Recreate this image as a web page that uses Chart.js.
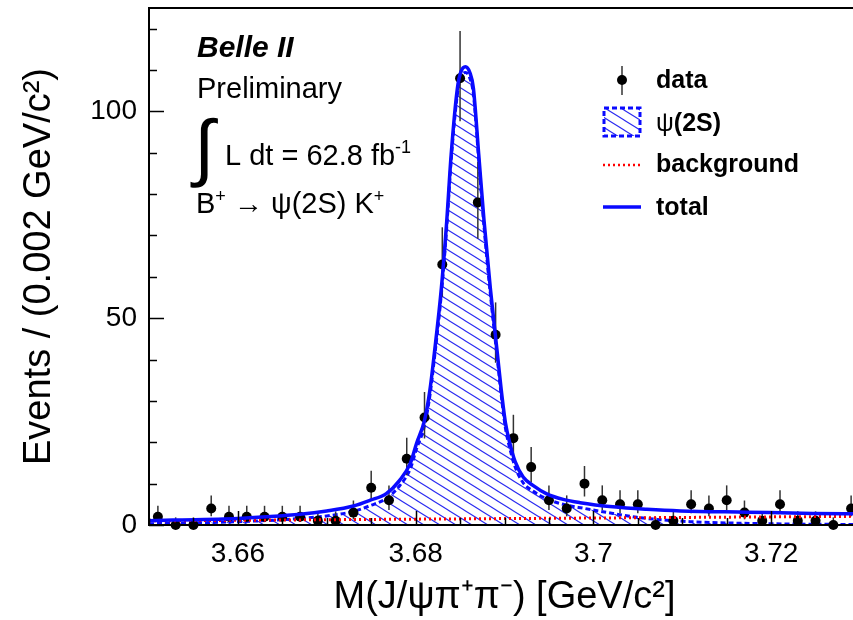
<!DOCTYPE html>
<html><head><meta charset="utf-8">
<script src="https://cdn.jsdelivr.net/npm/chart.js@4.4.1/dist/chart.umd.min.js"></script>
<style>
html,body{margin:0;padding:0;background:#fff;overflow:hidden;width:853px;height:620px;}
#wrap{position:relative;width:870px;height:620px;}
</style></head><body>
<div id="wrap"><canvas id="c" width="870" height="620"></canvas></div>
<script>
// ---- data ----
const binCenters = [3.651,3.653,3.655,3.657,3.659,3.661,3.663,3.665,3.667,3.669,
                    3.671,3.673,3.675,3.677,3.679,3.681,3.683,3.685,3.687,3.689,
                    3.691,3.693,3.695,3.697,3.699,3.701,3.703,3.705,3.707,3.709,
                    3.711,3.713,3.715,3.717,3.719,3.721,3.723,3.725,3.727,3.729];
const counts = [2,0,0,4,2,2,2,2,2,1, 1,3,9,6,16,26,63,108,78,46, 21,14,6,4,10,6,5,5,0,1, 5,4,6,3,1,5,1,1,0,4];
const errLo  = [1.29,0,0,1.91,1.29,1.29,1.29,1.29,1.29,0.83, 0.83,1.63,2.94,2.38,3.98,5.08,7.93,10.38,8.82,6.77,
                4.55,3.72,2.38,1.91,3.11,2.38,2.16,2.16,0,0.83, 2.16,1.91,2.38,1.63,0.83,2.16,0.83,0.83,0,1.91];
const errHi  = [2.64,1.84,1.84,3.16,2.64,2.64,2.64,2.64,2.64,2.30, 2.30,2.92,4.11,3.58,5.10,6.16,8.98,11.42,9.87,7.82,
                5.65,4.83,3.58,3.16,4.26,3.58,3.38,3.38,1.84,2.30, 3.38,3.16,3.58,2.92,2.30,3.38,2.30,2.30,1.84,3.16];

const totalX = [3.650,3.6527,3.6584,3.6632,3.667,3.670,3.673,3.6749,3.6767,3.6782,3.6794,3.6801,3.681,3.6816,3.6821,
                3.6829,3.6835,3.6840,3.6847,3.6851,3.6856,3.6861,3.6865,3.6871,3.6877,3.6884,3.6892,3.6896,3.6901,
                3.6906,3.6912,3.6921,3.6932,3.6947,3.6966,3.6985,3.7022,3.706,3.7098,3.7173,3.7247,3.730];
const totalY = [1.0,1.2,1.45,2.0,2.6,3.4,4.6,6.0,7.6,10.8,14.9,19.7,25.3,32.5,41.4,
                57.4,73.5,89.6,105.6,109.6,110.8,109.4,105.6,89.6,73.5,57.4,41.4,33.3,24.8,
                19.8,15.3,11.6,9.6,7.6,6.2,5.4,4.4,3.8,3.4,3.1,2.8,2.7];

const sigX = [3.650,3.655,3.660,3.665,3.670,3.673,3.6749,3.6767,3.6782,3.6794,3.6801,3.681,3.6816,3.6821,3.6829,
              3.6835,3.6840,3.6847,3.6851,3.6856,3.6861,3.6865,3.6871,3.6877,3.6884,3.6892,3.6896,3.6901,3.6906,
              3.6912,3.6921,3.6932,3.6949,3.6966,3.699,3.7022,3.7049,3.7109,3.715,3.720,3.730];
const sigY = [0.3,0.5,0.8,1.3,2.2,3.3,4.7,6.4,9.5,13.6,18.4,24.0,31.2,40.0,56.0,
              72.0,88.2,104.2,108.2,109.4,108.0,104.2,88.2,72.0,56.0,40.0,32.0,23.5,18.5,
              14.0,10.2,8.2,6.2,5.0,4.0,2.8,1.85,0.8,0.5,0.3,0.1];

const bgX = [3.650, 3.730];
const bgY = [1.0, 2.1];

const xTickVals = [3.66, 3.68, 3.70, 3.72];
const xTickLabels = ['3.66', '3.68', '3.7', '3.72'];
const yTickVals = [0, 50, 100];
const yTickLabels = ['0', '50', '100'];
const xMinorStep = 0.005, yMinorStep = 10;

const legendLabels = ['data', 'ψ(2S)', 'background', 'total'];

// ---- styling ----
const FONT = "'Liberation Sans', Arial, Helvetica, sans-serif";
Chart.defaults.font.family = FONT;
Chart.defaults.color = '#000';
const BLUE = '#0a0aff', RED = '#ff0000';

function hatchPattern() {
  const W = 16, H = 10;
  const c = document.createElement('canvas'); c.width = W; c.height = H;
  const g = c.getContext('2d');
  g.strokeStyle = '#2b2bf0'; g.lineWidth = 1.1;
  for (const dy of [-H, 0, H]) { g.beginPath(); g.moveTo(-W, -H + dy); g.lineTo(2 * W, 2 * H + dy); g.stroke(); }
  return g.createPattern(c, 'repeat');
}
const HATCH = hatchPattern();

const pts = (xs, ys) => xs.map((x, i) => ({ x, y: ys[i] }));

const errorBars = {
  id: 'errorBars',
  beforeDatasetDraw(chart, args) {
    if (args.index !== 2) return;
    const xs = chart.scales.x, ys = chart.scales.y, g = chart.ctx;
    g.save(); g.strokeStyle = '#333'; g.lineWidth = 1.5;
    binCenters.forEach((x, i) => {
      const px = xs.getPixelForValue(x);
      g.beginPath();
      g.moveTo(px, ys.getPixelForValue(counts[i] - errLo[i]));
      g.lineTo(px, ys.getPixelForValue(counts[i] + errHi[i]));
      g.stroke();
    });
    g.restore();
  }
};

const frameTicks = {
  id: 'frameTicks',
  afterDatasetsDraw(chart) {
    const { ctx: g, chartArea: a } = chart, xs = chart.scales.x, ys = chart.scales.y;
    g.save(); g.strokeStyle = '#000'; g.lineWidth = 1.5;
    for (let v = ys.min; v <= ys.max + 1e-9; v += yMinorStep) {
      const major = yTickVals.some(t => Math.abs(t - v) < 1e-6);
      const py = Math.round(ys.getPixelForValue(v)) + 0.5, L = major ? 15 : 8;
      g.beginPath(); g.moveTo(a.left, py); g.lineTo(a.left + L, py); g.stroke();
    }
    const n = Math.round((xs.max - xs.min) / xMinorStep);
    for (let k = 0; k <= n; k++) {
      const v = xs.min + k * xMinorStep;
      const major = xTickVals.some(t => Math.abs(t - v) < 1e-6);
      const px = Math.round(xs.getPixelForValue(v)) + 0.5, L = major ? 14 : 7;
      g.beginPath(); g.moveTo(px, a.bottom); g.lineTo(px, a.bottom - L); g.stroke();
    }
    g.lineWidth = 2;
    g.strokeRect(a.left, a.top, a.right - a.left, a.bottom - a.top);
    g.restore();
  }
};

function rich(g, x, y, parts) {
  for (const p of parts) {
    g.font = p.f; g.fillText(p.t, x, y + (p.dy || 0));
    x += g.measureText(p.t).width + (p.dx || 0);
  }
}

const annotations = {
  id: 'annotations',
  afterDraw(chart) {
    const g = chart.ctx;
    g.save(); g.fillStyle = '#000'; g.textBaseline = 'alphabetic'; g.textAlign = 'left';
    const f29 = `29px ${FONT}`, f18 = `18px ${FONT}`;
    rich(g, 197, 57, [{ t: 'Belle II', f: `italic bold 30px ${FONT}` }]);
    rich(g, 197, 98, [{ t: 'Preliminary', f: f29 }]);
    rich(g, 194, 172, [{ t: '∫', f: `74px 'Liberation Sans'` }]);
    rich(g, 225, 165, [{ t: 'L dt = 62.8 fb', f: f29 }, { t: '-1', f: f18, dy: -12 }]);
    rich(g, 196, 213, [{ t: 'B', f: f29 }, { t: '+', f: f18, dy: -11 }, { t: ' → ψ(2S) K', f: f29 }, { t: '+', f: f18, dy: -11 }]);

    // legend
    const fb = `bold 25px ${FONT}`, fn = `25px ${FONT}`;
    g.textBaseline = 'middle';
    g.strokeStyle = '#333'; g.lineWidth = 1.5;
    g.beginPath(); g.moveTo(622, 66); g.lineTo(622, 95); g.stroke();
    g.beginPath(); g.arc(622, 80, 5, 0, 2 * Math.PI); g.fill();
    rich(g, 656, 81, [{ t: legendLabels[0], f: fb }]);
    g.fillStyle = HATCH; g.fillRect(604, 108, 36, 28);
    g.strokeStyle = BLUE; g.lineWidth = 3; g.setLineDash([5, 3]);
    g.strokeRect(604, 108, 36, 28); g.setLineDash([]);
    g.fillStyle = '#000';
    rich(g, 656, 124, [{ t: 'ψ', f: fn }, { t: '(2S)', f: fb }]);
    g.strokeStyle = RED; g.lineWidth = 2.5; g.setLineDash([2, 3]);
    g.beginPath(); g.moveTo(603, 165); g.lineTo(641, 165); g.stroke(); g.setLineDash([]);
    rich(g, 656, 165, [{ t: legendLabels[2], f: fb }]);
    g.strokeStyle = BLUE; g.lineWidth = 3.5;
    g.beginPath(); g.moveTo(603, 207); g.lineTo(641, 207); g.stroke();
    rich(g, 656, 208, [{ t: legendLabels[3], f: fb }]);
    g.restore();
  }
};

new Chart(document.getElementById('c'), {
  type: 'line',
  data: {
    datasets: [
      { label: legendLabels[3], data: pts(totalX, totalY), borderColor: BLUE, borderWidth: 3.5,
        pointRadius: 0, cubicInterpolationMode: 'monotone', fill: false, order: 0 },
      { label: legendLabels[2], data: pts(bgX, bgY), borderColor: RED, borderWidth: 3, borderDash: [2, 3],
        pointRadius: 0, fill: false, order: 1 },
      { label: legendLabels[0], data: pts(binCenters, counts), showLine: false, pointRadius: 5,
        pointBackgroundColor: '#000', pointBorderColor: '#000', pointBorderWidth: 0, order: 2, clip: 12 },
      { label: legendLabels[1], data: pts(sigX, sigY), borderColor: BLUE, borderWidth: 3, borderDash: [5, 3],
        backgroundColor: HATCH, fill: 'origin', pointRadius: 0, cubicInterpolationMode: 'monotone', order: 3 }
    ]
  },
  options: {
    responsive: false, animation: false, devicePixelRatio: 1,
    layout: { padding: { left: 0, top: 8, right: 10, bottom: 0 } },
    plugins: { legend: { display: false }, tooltip: { enabled: false } },
    scales: {
      x: {
        type: 'linear', min: 3.65, max: 3.73,
        grid: { display: false, drawTicks: false }, border: { display: false },
        afterBuildTicks: s => { s.ticks = xTickVals.map(v => ({ value: v })); },
        afterFit: s => { s.height = 95; s.paddingLeft = 0; s.paddingRight = 0; },
        ticks: { font: { size: 28 }, color: '#000', padding: 12, maxRotation: 0, autoSkip: false,
                 callback: (v, i) => xTickLabels[i] },
        title: { display: true, text: 'M(J/ψπ⁺π⁻) [GeV/c²]', font: { size: 38 }, color: '#000', padding: 0 }
      },
      y: {
        type: 'linear', min: 0, max: 125,
        grid: { display: false, drawTicks: false }, border: { display: false },
        afterBuildTicks: s => { s.ticks = yTickVals.map(v => ({ value: v })); },
        afterFit: s => { s.width = 149; s.paddingTop = 0; s.paddingBottom = 0; },
        ticks: { font: { size: 28 }, color: '#000', padding: 12, autoSkip: false,
                 callback: (v, i) => yTickLabels[i] },
        title: { display: true, text: 'Events / (0.002 GeV/c²)', font: { size: 38 }, color: '#000', padding: { top: 17, bottom: 0 } }
      }
    }
  },
  plugins: [errorBars, frameTicks, annotations]
});
</script>
</body></html>
